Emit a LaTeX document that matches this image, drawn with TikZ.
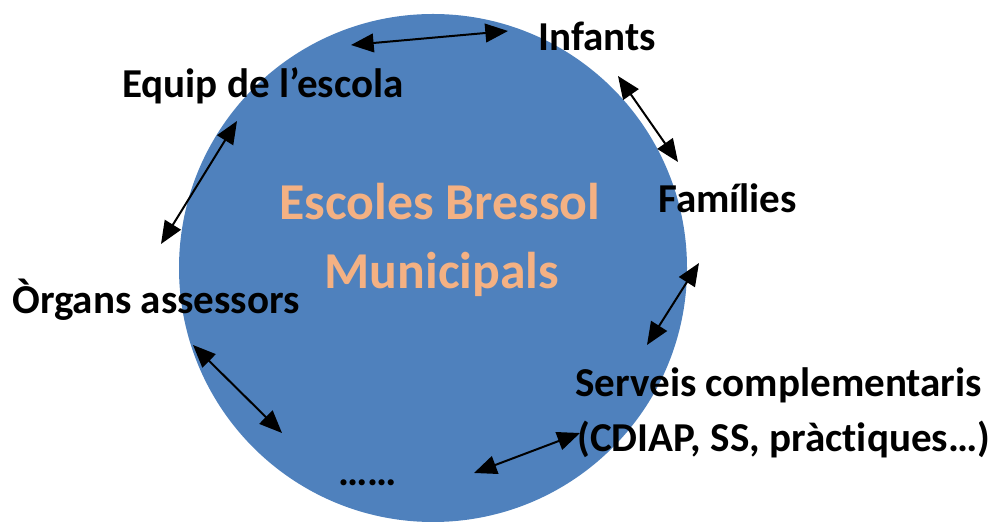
\documentclass[tikz,border=0pt]{standalone}
\usepackage{fontspec}
\setmainfont{Carlito}[Ligatures=NoCommon]
\usetikzlibrary{arrows.meta}
\definecolor{circblue}{RGB}{79,129,189}
\definecolor{lorange}{RGB}{244,177,131}
\tikzset{
  lbl/.style={inner sep=0pt, anchor=base west, font=\fontsize{30.8}{36}\selectfont\bfseries, text=black},
  title/.style={inner sep=0pt, anchor=base, font=\fontsize{38.8}{46}\selectfont\bfseries, text=lorange},
  link/.style={line width=1.5pt, {Triangle[length=17pt,width=14pt]}-{Triangle[length=17pt,width=14pt]}}
}
\begin{document}
\begin{tikzpicture}[x=0.75pt,y=-0.75pt]
\useasboundingbox (0,0) rectangle (993,523);
\node[circle, fill=circblue, minimum size=508*0.75pt, inner sep=0pt] (hub) at (433,268) {};
\node[title] (t1) at (440,220) {Escoles Bressol};
\node[title] (t2) at (442,289) {Municipals};
\node[lbl] (inf) at (538,51) {Infants};
\node[lbl] (equip) at (122,98) {Equip de l’escola};
\node[lbl] (fam) at (658,213) {Famílies};
\node[lbl] (org) at (12,314) {Òrgans assessors};
\node[lbl] (serv) at (575,397) {Serveis complementaris};
\node[lbl] (cdiap) at (577,452) {(CDIAP, SS, pràctiques…)};
\node[lbl] (dots) at (338,486) {……};
\coordinate (a1) at (351,45); \coordinate (b1) at (508,31);
\coordinate (a2) at (618,76); \coordinate (b2) at (678,162);
\coordinate (a3) at (237,121); \coordinate (b3) at (161,244);
\coordinate (a4) at (699,263); \coordinate (b4) at (647,345);
\coordinate (a5) at (193,345); \coordinate (b5) at (282,433);
\coordinate (a6) at (474,473); \coordinate (b6) at (580,433);
\draw[link] (a1) -- (b1);
\draw[link] (a2) -- (b2);
\draw[link] (a3) -- (b3);
\draw[link] (a4) -- (b4);
\draw[link] (a5) -- (b5);
\draw[link] (a6) -- (b6);
\end{tikzpicture}
\end{document}
